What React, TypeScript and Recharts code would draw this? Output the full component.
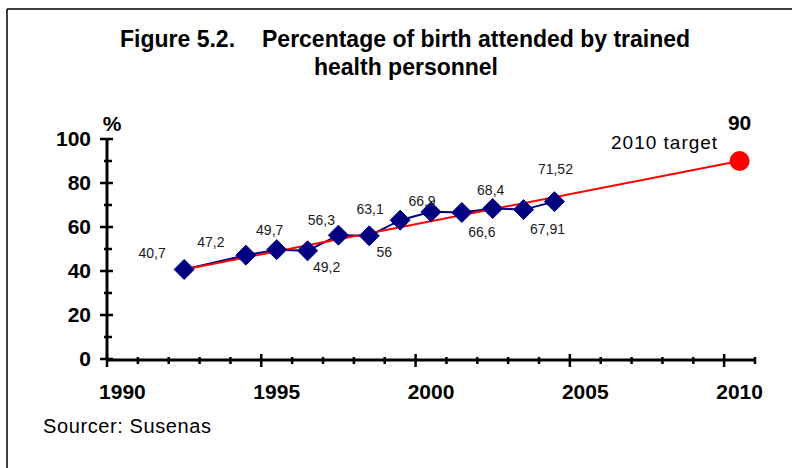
import { ComposedChart, Line, XAxis, YAxis } from "recharts";

const YEARS = [
  1990, 1991, 1992, 1993, 1994, 1995, 1996, 1997, 1998, 1999, 2000, 2001,
  2002, 2003, 2004, 2005, 2006, 2007, 2008, 2009, 2010,
];
const SURVEY_YEARS = [1992, 1994, 1995, 1996, 1997, 1998, 1999, 2000, 2001, 2002, 2003, 2004];
const COVERAGE = [40.7, 47.2, 49.7, 49.2, 56.3, 56, 63.1, 66.9, 66.6, 68.4, 67.91, 71.52];
const TARGET_YEARS = [1992, 2010];
const TARGET_VALUES = [40.7, 90];
const Y_TICKS = [0, 10, 20, 30, 40, 50, 60, 70, 80, 90, 100];
const X_MARKS = [
  1990, 1991, 1992, 1993, 1994, 1995, 1996, 1997, 1998, 1999, 2000, 2001,
  2002, 2003, 2004, 2005, 2006, 2007, 2008, 2009, 2010, 2011,
];

// where each value label sits relative to its marker (dx, dy of the text centre)
const LABEL_OFFSETS: [number, number][] = [
  [-32, -16], [-35, -13], [-7, -20], [19, 16], [-17, -15], [15, 16],
  [-30, -11], [-9, -11], [20, 20], [-2, -19], [24, 19], [1, -33],
];

const FONT = "'Liberation Sans', Arial, sans-serif";
const NAVY = "#000080";
const RED = "#FF0000";

const rows = YEARS.map((year) => {
  const i = SURVEY_YEARS.indexOf(year);
  const t = TARGET_YEARS.indexOf(year);
  return {
    year,
    coverage: i >= 0 ? COVERAGE[i] : null,
    target: t >= 0 ? TARGET_VALUES[t] : null,
  };
});

const fmt = (v: number) => String(v).replace(".", ",");

const Diamond = (props: any) => {
  const { cx, cy, payload, index } = props;
  if (payload?.coverage == null || cx == null || cy == null) return <g key={`d${index}`} />;
  const s = 10;
  return (
    <polygon
      key={`d${index}`}
      points={`${cx},${cy - s} ${cx + s},${cy} ${cx},${cy + s} ${cx - s},${cy}`}
      fill={NAVY}
      stroke={NAVY}
    />
  );
};

const TargetDot = (props: any) => {
  const { cx, cy, payload, index } = props;
  if (payload?.year !== 2010 || cx == null) return <g key={`t${index}`} />;
  return <circle key={`t${index}`} cx={cx} cy={cy} r={10} fill={RED} />;
};

const valueLabel = (props: any) => {
  const { x, y, value, index } = props;
  if (value == null || x == null) return <g key={`l${index}`} />;
  const i = SURVEY_YEARS.indexOf(YEARS[index]);
  const [dx, dy] = LABEL_OFFSETS[i] ?? [0, -16];
  return (
    <text
      key={`l${index}`}
      x={x + dx}
      y={y + dy + 5}
      textAnchor="middle"
      fontFamily={FONT}
      fontSize={14}
      fill="#1a1a1a"
    >
      {fmt(value)}
    </text>
  );
};

const targetLabel = (props: any) => {
  const { x, y, index } = props;
  if (YEARS[index] !== 2010 || x == null) return <g key={`tl${index}`} />;
  return (
    <g key={`tl${index}`}>
      <text x={x} y={y - 31} textAnchor="middle" fontFamily={FONT} fontSize={21} fontWeight="bold" fill="#000">
        90
      </text>
      <text x={x - 75} y={y - 12} textAnchor="middle" fontFamily={FONT} fontSize={19} letterSpacing={1} fill="#000">
        2010 target
      </text>
    </g>
  );
};

const YTick = (props: any) => {
  const { x, y, payload } = props;
  const v = payload.value;
  const major = v % 20 === 0;
  return (
    <g>
      <line x1={major ? x - 7 : x - 3} x2={major ? x + 6 : x + 5} y1={y} y2={y} stroke="#000" strokeWidth={2.5} />
      {major && (
        <text x={x - 16} y={y + 7} textAnchor="end" fontFamily={FONT} fontSize={21} fontWeight="bold" fill="#000">
          {v}
        </text>
      )}
    </g>
  );
};

const MarkTick = (props: any) => {
  const { x, y, payload } = props;
  const major = payload.value % 5 === 0;
  return (
    <line x1={x} x2={x} y1={major ? y - 6 : y - 3} y2={major ? y + 7 : y + 4} stroke="#000" strokeWidth={2.5} />
  );
};

const YearTick = (props: any) => {
  const { x, y, payload } = props;
  if (payload.value % 5 !== 0) return <g />;
  return (
    <text x={x} y={y + 40} textAnchor="middle" fontFamily={FONT} fontSize={21} fontWeight="bold" fill="#000">
      {payload.value}
    </text>
  );
};

export default function App() {
  return (
    <div style={{ position: "absolute", left: 0, top: 0, width: 792, height: 468, background: "#fff", overflow: "hidden" }}>
      <svg width={792} height={468} style={{ position: "absolute", left: 0, top: 0 }}>
        <line x1={7} x2={792} y1={9} y2={9} stroke="#000" strokeWidth={1.5} />
        <line x1={7} x2={7} y1={9} y2={468} stroke="#000" strokeWidth={1.5} />
        <text x={120} y={47} fontFamily={FONT} fontSize={23} fontWeight="bold" fill="#000">
          Figure 5.2.
        </text>
        <text x={262} y={47} fontFamily={FONT} fontSize={23} fontWeight="bold" fill="#000">
          Percentage of birth attended by trained
        </text>
        <text x={406} y={75} textAnchor="middle" fontFamily={FONT} fontSize={23} fontWeight="bold" fill="#000">
          health personnel
        </text>
        <text x={112} y={131} textAnchor="middle" fontFamily={FONT} fontSize={21} fontWeight="bold" fill="#000">
          %
        </text>
        <text x={43} y={433} fontFamily={FONT} fontSize={20} letterSpacing={0.6} fill="#000">
          Sourcer: Susenas
        </text>
      </svg>
      <div style={{ position: "absolute", left: 0, top: 0 }}>
        <ComposedChart width={792} height={468} data={rows} margin={{ top: 139, right: 37, bottom: 79, left: 47 }}>
          <XAxis
            xAxisId="marks"
            dataKey="year"
            type="number"
            domain={[1990, 2011]}
            allowDataOverflow
            ticks={X_MARKS}
            interval={0}
            height={29}
            tickSize={0}
            tickMargin={0}
            axisLine={{ stroke: "#000", strokeWidth: 3 }}
            tickLine={false}
            tick={<MarkTick />}
          />
          <XAxis
            dataKey="year"
            type="category"
            scale="band"
            interval={0}
            height={1}
            tickSize={0}
            tickMargin={0}
            axisLine={false}
            tickLine={false}
            tick={<YearTick />}
          />
          <YAxis
            type="number"
            domain={[0, 100]}
            ticks={Y_TICKS}
            interval={0}
            width={60}
            tickSize={0}
            tickMargin={0}
            axisLine={{ stroke: "#000", strokeWidth: 3 }}
            tickLine={false}
            tick={<YTick />}
          />
          <Line
            xAxisId="marks"
            dataKey="coverage"
            stroke="none"
            dot={false}
            activeDot={false}
            legendType="none"
            isAnimationActive={false}
          />
          <Line
            dataKey="coverage"
            stroke={NAVY}
            strokeWidth={2}
            connectNulls
            dot={Diamond}
            activeDot={false}
            label={valueLabel}
            isAnimationActive={false}
          />
          <Line
            dataKey="target"
            stroke={RED}
            strokeWidth={2}
            connectNulls
            dot={TargetDot}
            activeDot={false}
            label={targetLabel}
            isAnimationActive={false}
          />
        </ComposedChart>
      </div>
    </div>
  );
}
